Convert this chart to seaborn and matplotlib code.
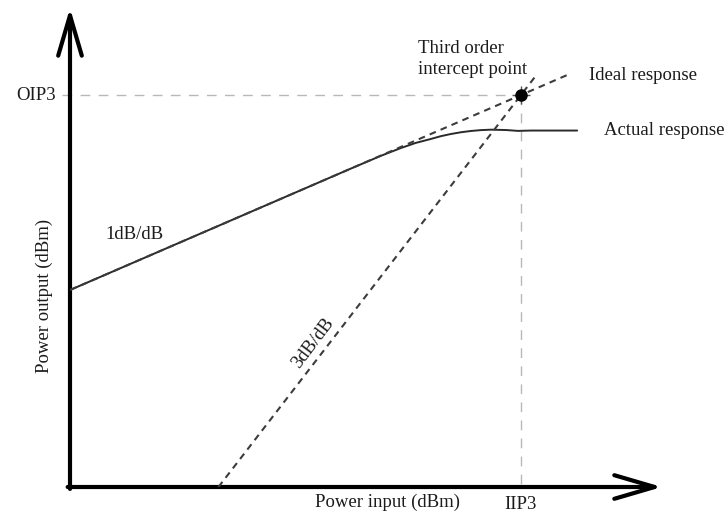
import matplotlib
matplotlib.use("Agg")
import matplotlib.pyplot as plt
import seaborn as sns
import pandas as pd
import numpy as np

# Transfer characteristic of an amplifier (input / output power in dBm)
IIP3 = 5.0
OIP3 = 15.0

# Fundamental: ideal 1 dB/dB line
ideal_in = [-40.0, 9.6]
ideal_out = [-30.0, 19.6]

# Third-order product: 3 dB/dB line through the intercept point
third_in = [-25.2, 6.6]
third_out = [-75.5, 19.8]

# Measured (compressed) fundamental response
actual_in = [-40.0, -12.0, -9.0, -7.0, -5.5, -4.0, -3.0, -2.0, -1.0, 0.0, 1.0,
             2.0, 3.5, 4.7, 6.0, 10.6]
actual_out = [-30.0, -2.0, 0.95, 2.75, 3.95, 4.85, 5.5, 6.0, 6.4, 6.7, 6.9,
              7.0, 6.92, 6.72, 6.8, 6.8]

sns.set_theme(style="white")
plt.rcParams["font.family"] = ["Liberation Serif", "DejaVu Serif"]

fig = plt.figure(figsize=(7.24, 5.19), dpi=100)
ax = fig.add_axes([70 / 724, 32 / 519, 592 / 724, 479 / 519])
ax.set_xlim(-40.0, 19.07)
ax.set_ylim(-75.46, 35.08)
for s in ax.spines.values():
    s.set_visible(False)
ax.set_xticks([])
ax.set_yticks([])
ax.patch.set_alpha(0)

guide = "#b8b8b8"
dots = "#3c3c3c"

# Guide lines to the intercept point
ax.plot([-40.8, IIP3], [OIP3, OIP3], color=guide, lw=1.0,
        ls=(0, (7, 6)), clip_on=False, zorder=1)
ax.plot([IIP3, IIP3], [OIP3, -76.6], color=guide, lw=1.0,
        ls=(0, (7, 6)), clip_on=False, zorder=1)

df_ideal = pd.DataFrame({"pin": ideal_in, "pout": ideal_out})
df_third = pd.DataFrame({"pin": third_in, "pout": third_out})
df_actual = pd.DataFrame({"pin": actual_in, "pout": actual_out})

sns.lineplot(data=df_actual, x="pin", y="pout", ax=ax, color="#2a2a2a",
             lw=1.4, sort=False, zorder=3)
sns.lineplot(data=df_ideal, x="pin", y="pout", ax=ax, color=dots,
             lw=1.5, ls=(0, (3.2, 2.5)), sort=False, zorder=4)
sns.lineplot(data=df_third, x="pin", y="pout", ax=ax, color=dots,
             lw=1.5, ls=(0, (3.2, 2.5)), sort=False, zorder=4)

# Intercept point
ax.plot([IIP3], [OIP3], marker="o", ms=8, color="black", zorder=6)
ax.plot([IIP3], [OIP3], marker="+", ms=13, mew=1.0, color="#555555", zorder=5)

ax.set_xlabel("")
ax.set_ylabel("")

# Axes with open arrowheads
arrow = dict(arrowstyle="->,head_length=2.9,head_width=0.85", lw=3.0,
             color="black", mutation_scale=10, shrinkA=0, shrinkB=0)
ax.annotate("", xy=(1.0, 0.0), xytext=(-0.004, 0.0), xycoords="axes fraction",
            arrowprops=arrow)
ax.annotate("", xy=(0.0, 1.0), xytext=(0.0, -0.004), xycoords="axes fraction",
            arrowprops=arrow)

fs = 13.5
tc = "#1b1b1b"
ax.text(-41.4, OIP3, "OIP3", ha="right", va="center", fontsize=fs, color=tc)
ax.text(IIP3, -77.6, "IIP3", ha="center", va="top", fontsize=fs, color=tc)
ax.text(0.537, -0.014, "Power input (dBm)", transform=ax.transAxes,
        ha="center", va="top", fontsize=fs, color=tc)
ax.text(-0.043, 0.398, "Power output (dBm)", transform=ax.transAxes,
        ha="center", va="center", rotation=90, fontsize=fs, color=tc)
ax.text(-36.5, -17.3, "1dB/dB", ha="left", va="center", fontsize=fs, color=tc)
ax.text(-15.8, -42.2, "3dB/dB", ha="center", va="center", rotation=53,
        fontsize=fs, color=tc)
ax.text(-5.3, 23.3, "Third order\nintercept point", ha="left", va="center",
        fontsize=fs, color=tc, linespacing=1.35)
ax.text(11.8, 19.6, "Ideal response", ha="left", va="center", fontsize=fs,
        color=tc)
ax.text(13.3, 6.9, "Actual response", ha="left", va="center", fontsize=fs,
        color=tc)

fig.savefig("out.png", dpi=100)
